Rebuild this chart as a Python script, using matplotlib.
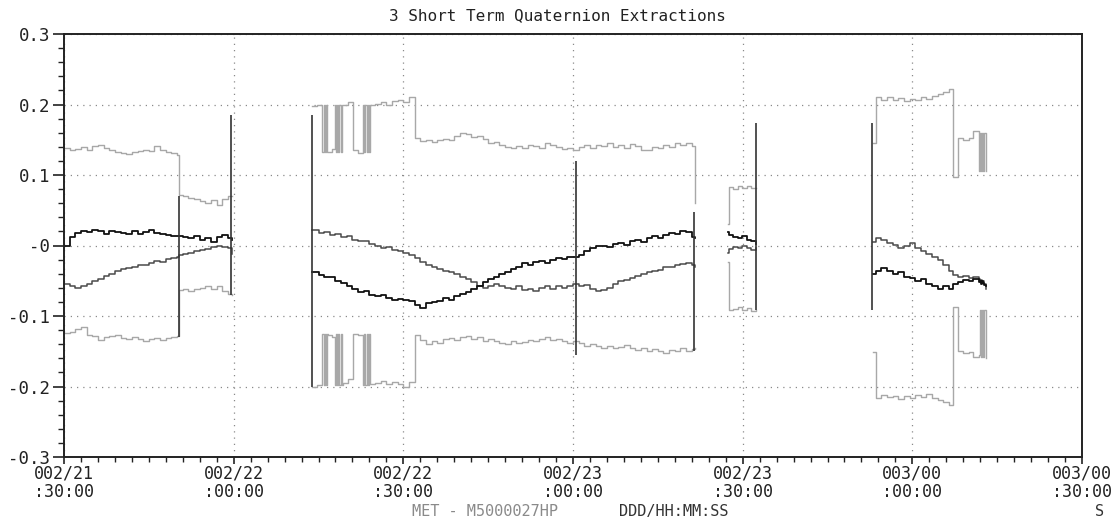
import matplotlib
matplotlib.use("Agg")
import matplotlib.pyplot as plt
from matplotlib.ticker import MultipleLocator

# ---------------- data (time in minutes after 002/21:30:00) ----------------
seg1_t = [0, 1, 2, 3, 4, 5, 6, 7, 8, 9, 10, 11, 12, 13, 14, 15, 16, 17, 18, 19, 20,
          20.4, 21, 22, 23, 24, 25, 26, 27, 28, 29, 29.7]
seg1_q1 = [0.138, 0.136, 0.137, 0.140, 0.136, 0.141, 0.143, 0.138, 0.136, 0.133, 0.131,
           0.130, 0.132, 0.134, 0.136, 0.134, 0.141, 0.135, 0.133, 0.131, 0.129,
           0.072, 0.070, 0.067, 0.066, 0.063, 0.060, 0.064, 0.058, 0.066, 0.070, 0.070]
seg1_q2 = [0.000, 0.012, 0.018, 0.021, 0.019, 0.022, 0.020, 0.017, 0.021, 0.019, 0.018,
           0.016, 0.020, 0.017, 0.019, 0.022, 0.018, 0.016, 0.015, 0.014, 0.013,
           0.013, 0.012, 0.010, 0.013, 0.008, 0.011, 0.005, 0.012, 0.015, 0.011, 0.008]
seg1_q3 = [-0.055, -0.058, -0.060, -0.057, -0.054, -0.050, -0.047, -0.043, -0.040, -0.036,
           -0.034, -0.032, -0.031, -0.028, -0.027, -0.025, -0.022, -0.023, -0.019, -0.018,
           -0.016, -0.013, -0.012, -0.010, -0.008, -0.006, -0.005, -0.002, 0.000, -0.002,
           -0.004, -0.012]
seg1_q4 = [-0.124, -0.122, -0.118, -0.116, -0.127, -0.129, -0.134, -0.130, -0.128, -0.127,
           -0.131, -0.133, -0.130, -0.132, -0.136, -0.133, -0.131, -0.134, -0.131, -0.130,
           -0.129, -0.063, -0.061, -0.064, -0.062, -0.060, -0.057, -0.062, -0.058, -0.065,
           -0.069, -0.070]

seg2_t = [43.9] + list(range(45, 112)) + [111.5]
seg2_q2 = [-0.037,
           -0.042, -0.045, -0.044, -0.050, -0.053, -0.058, -0.062, -0.066, -0.065, -0.070,
           -0.072, -0.070, -0.074, -0.078, -0.076, -0.077, -0.079, -0.084, -0.088, -0.082,
           -0.080, -0.079, -0.075, -0.077, -0.071, -0.069, -0.066, -0.062, -0.058, -0.052,
           -0.048, -0.045, -0.041, -0.038, -0.033, -0.030, -0.025, -0.028, -0.024, -0.022,
           -0.025, -0.021, -0.018, -0.019, -0.016, -0.017, -0.013, -0.008, -0.004, -0.001,
           0.000, -0.002, 0.002, 0.004, 0.001, 0.006, 0.008, 0.005, 0.010, 0.013,
           0.011, 0.015, 0.018, 0.016, 0.021, 0.019, 0.012,
           0.010]
seg2_q3 = [0.022,
           0.018, 0.019, 0.015, 0.016, 0.012, 0.014, 0.008, 0.006, 0.007, 0.002,
           0.000, -0.004, -0.002, -0.006, -0.008, -0.010, -0.014, -0.018, -0.024, -0.028,
           -0.031, -0.033, -0.036, -0.038, -0.041, -0.044, -0.047, -0.052, -0.057, -0.060,
           -0.058, -0.055, -0.057, -0.060, -0.062, -0.058, -0.063, -0.061, -0.064, -0.060,
           -0.058, -0.061, -0.058, -0.060, -0.057, -0.055, -0.058, -0.056, -0.062, -0.065,
           -0.063, -0.060, -0.054, -0.050, -0.049, -0.046, -0.043, -0.041, -0.038, -0.036,
           -0.035, -0.031, -0.030, -0.028, -0.026, -0.025, -0.027,
           -0.030]

seg2w_t = [43.9, 44.8, 45.7, 45.9, 46.1, 46.3, 46.5, 46.7, 47.3, 47.9, 48.1, 48.3, 48.5,
           48.7, 48.9, 49.1, 49.3, 50.2, 51.1, 52.0, 52.9, 53.1, 53.3, 53.5, 53.7, 53.9,
           54.1] + list(range(55, 112)) + [111.5]
seg2w_q1 = [0.198, 0.200, 0.132, 0.200, 0.132, 0.200, 0.132, 0.133, 0.137, 0.200, 0.132,
            0.200, 0.132, 0.200, 0.132, 0.200, 0.199, 0.203, 0.135, 0.131, 0.200, 0.132,
            0.200, 0.132, 0.200, 0.132, 0.200,
            0.201, 0.204, 0.200, 0.205, 0.207, 0.203, 0.210,
            0.152, 0.148, 0.150, 0.147, 0.149, 0.151, 0.150, 0.156, 0.160, 0.158,
            0.154, 0.155, 0.151, 0.146, 0.147, 0.143, 0.140, 0.138, 0.141, 0.139,
            0.143, 0.141, 0.139, 0.145, 0.143, 0.140, 0.137, 0.139, 0.136, 0.140,
            0.142, 0.138, 0.143, 0.141, 0.145, 0.140, 0.142, 0.138, 0.144, 0.141,
            0.135, 0.136, 0.140, 0.138, 0.143, 0.140, 0.145, 0.142, 0.146, 0.141,
            0.060]
seg2w_q4 = [-0.200, -0.198, -0.125, -0.198, -0.125, -0.198, -0.125, -0.127, -0.130, -0.198,
            -0.125, -0.198, -0.125, -0.198, -0.125, -0.198, -0.195, -0.190, -0.125, -0.127,
            -0.198, -0.125, -0.198, -0.125, -0.198, -0.125, -0.196,
            -0.195, -0.192, -0.196, -0.193, -0.197, -0.200, -0.194,
            -0.127, -0.134, -0.140, -0.136, -0.138, -0.133, -0.131, -0.134, -0.130, -0.128,
            -0.132, -0.130, -0.136, -0.133, -0.135, -0.138, -0.140, -0.136, -0.139, -0.137,
            -0.134, -0.136, -0.132, -0.130, -0.134, -0.132, -0.136, -0.138, -0.135, -0.139,
            -0.142, -0.140, -0.143, -0.145, -0.142, -0.146, -0.144, -0.141, -0.145, -0.148,
            -0.146, -0.150, -0.147, -0.149, -0.152, -0.148, -0.150, -0.146, -0.149, -0.147,
            -0.145]

seg3_t = [117.4, 117.6, 118.3, 119.1, 119.9, 120.7, 121.5, 122.4]
seg3_q1 = [0.030, 0.083, 0.080, 0.084, 0.082, 0.085, 0.081, 0.081]
seg3_q2 = [0.019, 0.015, 0.012, 0.010, 0.013, 0.008, 0.006, 0.002]
seg3_q3 = [-0.011, -0.005, -0.002, -0.004, 0.000, -0.003, -0.006, -0.004]
seg3_q4 = [-0.024, -0.092, -0.090, -0.087, -0.091, -0.089, -0.093, -0.092]

seg4_t = [143.1, 143.6, 144.5, 145.5, 146.5, 147.5, 148.5, 149.5, 150.5, 151.5, 152.5,
          153.5, 154.5, 155.5, 156.5, 157.2, 158.0, 159.0, 160.0, 160.8, 161.7, 161.9,
          162.1, 162.3, 162.5, 162.7, 163.0]
seg4_q1 = [0.145, 0.210, 0.207, 0.210, 0.206, 0.209, 0.205, 0.208, 0.206, 0.210, 0.208,
           0.212, 0.215, 0.218, 0.222, 0.097, 0.152, 0.150, 0.153, 0.162, 0.105, 0.160,
           0.105, 0.160, 0.105, 0.160, 0.105]
seg4_q2 = [-0.040, -0.036, -0.032, -0.036, -0.040, -0.038, -0.044, -0.046, -0.050, -0.048,
           -0.054, -0.058, -0.061, -0.057, -0.062, -0.055, -0.052, -0.049, -0.050, -0.047,
           -0.052, -0.050, -0.054, -0.051, -0.053, -0.056, -0.058]
seg4_q3 = [0.005, 0.010, 0.008, 0.004, 0.001, -0.003, 0.000, 0.003, -0.004, -0.008, -0.012,
           -0.016, -0.021, -0.028, -0.036, -0.042, -0.045, -0.043, -0.046, -0.044, -0.048,
           -0.050, -0.049, -0.051, -0.050, -0.055, -0.062]
seg4_q4 = [-0.151, -0.216, -0.212, -0.215, -0.213, -0.218, -0.214, -0.216, -0.212, -0.215,
           -0.211, -0.216, -0.219, -0.222, -0.226, -0.087, -0.150, -0.152, -0.151, -0.158,
           -0.155, -0.092, -0.158, -0.092, -0.158, -0.092, -0.160]

spike_t = [20.4, 29.5, 43.9, 90.6, 111.4, 122.4, 142.9]
spike_lo = [-0.130, -0.070, -0.200, -0.155, -0.150, -0.092, -0.092]
spike_hi = [0.070, 0.185, 0.185, 0.120, 0.047, 0.174, 0.174]

x_ticks = [0, 30, 60, 90, 120, 150, 180]
x_labels = ["002/21\n:30:00", "002/22\n:00:00", "002/22\n:30:00", "002/23\n:00:00",
            "002/23\n:30:00", "003/00\n:00:00", "003/00\n:30:00"]
y_ticks = [0.3, 0.2, 0.1, 0.0, -0.1, -0.2, -0.3]
y_labels = ["0.3", "0.2", "0.1", "-0", "-0.1", "-0.2", "-0.3"]

# ---------------- plot ----------------
FONT = "DejaVu Sans Mono"
plt.rcParams["font.family"] = [FONT, "DejaVu Sans"]

fig = plt.figure(figsize=(11.15, 5.21), dpi=100)
ax = fig.add_axes([64 / 1115, 1 - 457 / 521, 1018 / 1115, 423 / 521])

light = "#a8a8a8"
mid = "#4a4a4a"
dark = "#111111"

segments = [
    (seg1_t, seg1_q1, seg1_t, seg1_q4, seg1_t, seg1_q2, seg1_q3),
    (seg2w_t, seg2w_q1, seg2w_t, seg2w_q4, seg2_t, seg2_q2, seg2_q3),
    (seg3_t, seg3_q1, seg3_t, seg3_q4, seg3_t, seg3_q2, seg3_q3),
    (seg4_t, seg4_q1, seg4_t, seg4_q4, seg4_t, seg4_q2, seg4_q3),
]
for t1, q1, t4, q4, t2, q2, q3 in segments:
    ax.step(t1, q1, where="post", color=light, lw=1.0)
    ax.step(t4, q4, where="post", color=light, lw=1.0)
    ax.step(t2, q3, where="post", color=mid, lw=1.1)
    ax.step(t2, q2, where="post", color=dark, lw=1.3)

ax.vlines(spike_t, spike_lo, spike_hi, color="#333333", lw=1.2)

ax.set_xlim(0, 180)
ax.set_ylim(-0.3, 0.3)
ax.set_xticks(x_ticks)
ax.set_xticklabels(x_labels, fontsize=12, family=FONT, linespacing=1.05)
ax.set_yticks(y_ticks)
ax.set_yticklabels(y_labels, fontsize=12.5, family=FONT)
ax.xaxis.set_minor_locator(MultipleLocator(3))
ax.yaxis.set_minor_locator(MultipleLocator(0.02))
ax.tick_params(axis="y", which="major", direction="out", length=8, width=1.2,
               color="#222222", labelcolor="#222222", pad=2)
ax.tick_params(axis="y", which="minor", direction="out", length=4.5, width=1.0,
               color="#222222")
ax.tick_params(axis="x", which="major", direction="out", length=5, width=1.2,
               color="#222222", labelcolor="#222222", pad=0.5)
ax.tick_params(axis="x", which="minor", direction="out", length=3.5, width=1.0,
               color="#222222")

for s in ax.spines.values():
    s.set_linewidth(1.4)
    s.set_color("#222222")

ax.grid(True, which="major", color="#8a8a8a", linestyle=(0, (1, 4)), linewidth=0.9)

fig.text(557 / 1115, 1 - 16 / 521, "3 Short Term Quaternion Extractions",
         ha="center", va="center", fontsize=11.5, family=FONT, color="#222222")
fig.text(485 / 1115, 1 - 504 / 521, "MET - M5000027HP", ha="center", va="top",
         fontsize=11, family=FONT, color="#8a8a8a")
fig.text(674 / 1115, 1 - 504 / 521, "DDD/HH:MM:SS", ha="center", va="top",
         fontsize=11, family=FONT, color="#333333")
fig.text(1100 / 1115, 1 - 504 / 521, "S", ha="center", va="top",
         fontsize=11, family=FONT, color="#333333")

fig.savefig("out.png", dpi=100)
